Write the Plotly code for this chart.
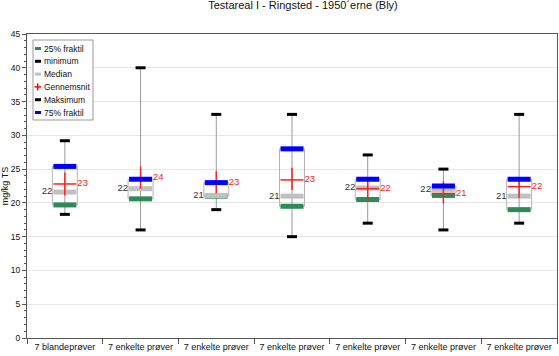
import plotly.graph_objects as go

categories = ["7 blandeprøver", "7 enkelte prøver", "7 enkelte prøver", "7 enkelte prøver",
              "7 enkelte prøver", "7 enkelte prøver", "7 enkelte prøver"]
q25 = [19.7, 20.6, 21.0, 19.5, 20.5, 21.1, 19.0]
minimum = [18.3, 16.0, 19.0, 15.0, 17.0, 16.0, 17.0]
median = [21.6, 22.1, 21.1, 21.0, 22.2, 22.0, 21.0]
mean = [22.8, 23.7, 23.0, 23.4, 22.1, 21.4, 22.4]
mean_upper = [24.5, 25.4, 24.7, 25.2, 23.2, 23.2, 23.8]
mean_lower = [21.1, 22.1, 21.4, 21.9, 20.5, 19.9, 20.7]
maximum = [29.2, 40.0, 33.1, 33.1, 27.1, 25.0, 33.1]
q75 = [25.4, 23.5, 23.0, 28.0, 23.5, 22.5, 23.5]
y_ticks = [0, 5, 10, 15, 20, 25, 30, 35, 40, 45]
legend_names = ["25% fraktil", "minimum", "Median", "Gennemsnit", "Maksimum", "75% fraktil"]
legend_colors = ["#2e8b57", "#000000", "#c0c0c0", "#ff0000", "#000000", "#0000ff"]

FONT = "Liberation Sans, Arial, sans-serif"
W, H = 559, 356
ML, MR, MT, MB = 27, 2, 34, 18
PW, PH = W - ML - MR, H - MT - MB
xs = list(range(len(categories)))
BAR = 23 / 1.4   # line-ew marker size giving ~23px wide bars
CAP = 10 / 1.4
HW = 0.165       # half width of box outline in category units


def px_x(p):
    return (p - ML) / PW


def px_y(p):
    return (H - MB - p) / PH


fig = go.Figure()

# whiskers (min -> max)
wx, wy = [], []
for i in xs:
    wx += [i, i, None]
    wy += [minimum[i], maximum[i], None]
fig.add_trace(go.Scatter(x=wx, y=wy, mode="lines", line=dict(color="#999999", width=1),
                         showlegend=False, hoverinfo="skip"))
# box outlines (q25 -> q75)
bx, by = [], []
for i in xs:
    bx += [i - HW, i + HW, i + HW, i - HW, i - HW, None]
    by += [q25[i], q25[i], q75[i], q75[i], q25[i], None]
fig.add_trace(go.Scatter(x=bx, y=by, mode="lines", line=dict(color="#b4b4b4", width=1),
                         showlegend=False, hoverinfo="skip"))


def bar_trace(name, vals, color, size, width):
    fig.add_trace(go.Scatter(x=xs, y=vals, mode="markers", name=name, showlegend=False,
                             marker=dict(symbol="line-ew", size=size,
                                         line=dict(color=color, width=width))))


bar_trace("25% fraktil", q25, "#2e8b57", BAR, 5)
bar_trace("minimum", minimum, "#000000", CAP, 3)
bar_trace("Median", median, "#c0c0c0", BAR, 5)
fig.add_trace(go.Scatter(
    x=xs, y=mean, mode="markers", name="Gennemsnit", showlegend=False,
    marker=dict(symbol="line-ew", size=BAR, line=dict(color="#ff2020", width=1.5)),
    error_y=dict(type="data", symmetric=False,
                 array=[u - m for u, m in zip(mean_upper, mean)],
                 arrayminus=[m - l for m, l in zip(mean, mean_lower)],
                 color="#ff2020", thickness=1.5, width=0)))
bar_trace("Maksimum", maximum, "#000000", CAP, 3)
bar_trace("75% fraktil", q75, "#0000ff", BAR, 5)

# value labels
fig.add_trace(go.Scatter(x=[i - HW for i in xs], y=median, mode="text",
                         text=[f"{v:.0f}" for v in median], textposition="middle left",
                         textfont=dict(family=FONT, size=9.5, color="#333333"),
                         showlegend=False, hoverinfo="skip"))
fig.add_trace(go.Scatter(x=[i + HW for i in xs], y=mean, mode="text",
                         text=[f"{v:.0f}" for v in mean], textposition="middle right",
                         textfont=dict(family=FONT, size=9.5, color="#ff2020"),
                         showlegend=False, hoverinfo="skip"))

# compact legend box (drawn manually)
shapes = [dict(type="rect", xref="paper", yref="paper",
               x0=px_x(33), x1=px_x(93), y0=px_y(120), y1=px_y(40),
               line=dict(color="#999999", width=1), fillcolor="white", layer="above")]
annotations = []
for k, (name, col) in enumerate(zip(legend_names, legend_colors)):
    yy = 48.5 + k * 12.8
    if name == "Gennemsnit":
        shapes.append(dict(type="line", xref="paper", yref="paper", x0=px_x(34.5), x1=px_x(41),
                           y0=px_y(yy), y1=px_y(yy), line=dict(color=col, width=1.5),
                           layer="above"))
        shapes.append(dict(type="line", xref="paper", yref="paper", x0=px_x(37.7), x1=px_x(37.7),
                           y0=px_y(yy - 3.5), y1=px_y(yy + 3.5), line=dict(color=col, width=1.5),
                           layer="above"))
    else:
        shapes.append(dict(type="line", xref="paper", yref="paper", x0=px_x(35), x1=px_x(41),
                           y0=px_y(yy), y1=px_y(yy), line=dict(color=col, width=3),
                           layer="above"))
    annotations.append(dict(text=name, xref="paper", yref="paper", x=px_x(41.5), y=px_y(yy),
                            xanchor="left", yanchor="middle", showarrow=False,
                            font=dict(family=FONT, size=8.5, color="#111111")))

fig.update_layout(
    width=W, height=H,
    margin=dict(l=ML, r=MR, t=MT, b=MB),
    paper_bgcolor="white", plot_bgcolor="white",
    font=dict(family=FONT, size=8, color="#222222"),
    title=dict(text="Testareal I - Ringsted - 1950´erne (Bly)", x=303 / W, xanchor="center",
               y=0.996, yanchor="top", font=dict(family=FONT, size=11, color="#111111")),
    showlegend=False,
    shapes=shapes,
    annotations=annotations,
    xaxis=dict(range=[-0.5, len(categories) - 0.5], tickvals=xs, ticktext=categories,
               ticks="", showgrid=False, zeroline=False, showline=True, automargin=False,
               linecolor="#555555", linewidth=1, mirror=True,
               tickfont=dict(size=9, color="#111111"),
               minor=dict(tick0=-0.5, dtick=1, ticks="outside", ticklen=5,
                          tickcolor="#555555", showgrid=False)),
    yaxis=dict(range=[0, 45], tickvals=y_ticks, ticks="outside", ticklen=4, automargin=False,
               tickcolor="#555555", showgrid=True, gridcolor="#e6e6e6", zeroline=False,
               showline=True, linecolor="#555555", linewidth=1, mirror=True,
               tickfont=dict(size=8.5, color="#111111"),
               title=dict(text="mg/kg TS", font=dict(size=9, color="#111111"), standoff=4),
               minor=dict(dtick=1, ticks="outside", ticklen=2, tickcolor="#555555",
                          showgrid=False)),
)

fig.write_html("out.html", config={"displayModeBar": False},
               post_script="document.body.style.margin='0px';")
